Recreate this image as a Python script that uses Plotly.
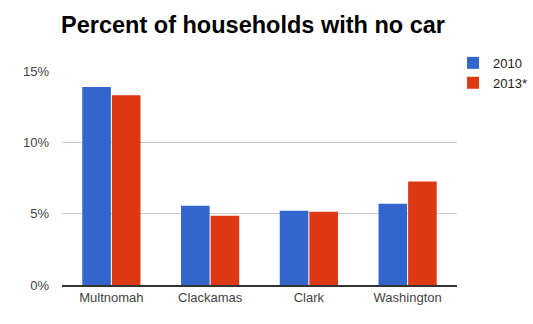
import plotly.graph_objects as go

categories = ["Multnomah", "Clackamas", "Clark", "Washington"]
values_2010 = [13.87, 5.56, 5.21, 5.70]
values_2013 = [13.30, 4.86, 5.14, 7.25]
series_names = ["2010", "2013*"]
y_ticks = [0, 5, 10, 15]
y_tick_labels = ["0%", "5%", "10%", "15%"]

fig = go.Figure()
fig.add_trace(go.Bar(x=categories, y=values_2010, name=series_names[0],
                     marker=dict(color="#3366cc", line=dict(width=0))))
fig.add_trace(go.Bar(x=categories, y=values_2013, name=series_names[1],
                     marker=dict(color="#dc3912", line=dict(width=0))))

fig.update_layout(
    width=533, height=324,
    margin=dict(l=62, r=76, t=71, b=39, autoexpand=False),
    paper_bgcolor="white", plot_bgcolor="white",
    font=dict(family="Liberation Sans, Arial, sans-serif", size=13, color="#444444"),
    title=dict(text="<b>Percent of households with no car</b>",
               font=dict(size=23.5, color="#000000", family="Liberation Sans, Arial, sans-serif"),
               x=253/533, xanchor="center", y=1 - 25/324, yanchor="middle"),
    barmode="group", bargap=0.4, bargroupgap=0.035,
    showlegend=True,
    legend=dict(x=0.99, xanchor="left", y=1.108, yanchor="top",
                font=dict(size=13, color="#222222"),
                bgcolor="rgba(0,0,0,0)", itemwidth=30, tracegroupgap=4),
    hovermode=False,
)
fig.update_yaxes(range=[0, 15], tickvals=y_ticks, ticktext=y_tick_labels,
                 showgrid=True, gridcolor="#cccccc", gridwidth=1,
                 zeroline=False, showline=False, ticks="",
                 ticklabelstandoff=12, tickfont=dict(size=13, color="#444444"))
fig.update_xaxes(showline=True, linecolor="#333333", linewidth=1.5, ticks="",
                 tickfont=dict(size=13, color="#444444"))

fig.write_html("out.html")
